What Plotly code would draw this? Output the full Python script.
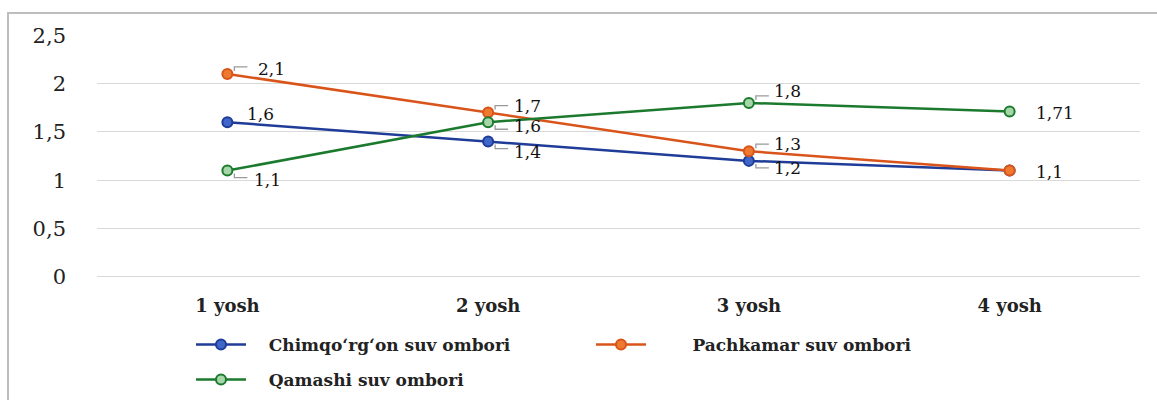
import plotly.graph_objects as go

# ---- data ----
categories = ["1 yosh", "2 yosh", "3 yosh", "4 yosh"]
series_names = ["Chimqo‘rg‘on suv ombori", "Pachkamar suv ombori", "Qamashi suv ombori"]
chimqorgon = [1.6, 1.4, 1.2, 1.1]
pachkamar = [2.1, 1.7, 1.3, 1.1]
qamashi = [1.1, 1.6, 1.8, 1.71]
y_ticks = [0, 0.5, 1, 1.5, 2, 2.5]

# ---- styles ----
W, H = 1157, 400
ML, MR, MT, MB = 97, 17, 35, 123
PW, PH = W - ML - MR, H - MT - MB
FONT = "DejaVu Serif"
NB = "\u00a0"

styles = [
    dict(line="#1F3C98", fill="#3F66C8", legend="legend", lx=191, ly=345, pad=3),
    dict(line="#D9541A", fill="#EE7A30", legend="legend2", lx=591, ly=345, pad=7),
    dict(line="#1B7A2E", fill="#A5D6A7", legend="legend3", lx=191, ly=380, pad=3),
]
# label offsets (dx, dy in px, screen coords) per series per category; None = no label
label_off = [
    [(33, -8), (39, 10), (39, 7), None],
    [(44, -5), (39, -7), (39, -7), (40, 1)],
    [(40, 9), (39, 4), (39, -12), (45, 1)],
]
# leader line presence / direction (-1 up, +1 down, 0 none)
leader = [
    [0, 1, 1, 0],
    [-1, -1, -1, 0],
    [1, 1, -1, 0],
]

values = [chimqorgon, pachkamar, qamashi]

fig = go.Figure()
for i, (name, vals, st) in enumerate(zip(series_names, values, styles)):
    fig.add_trace(go.Scatter(
        x=categories, y=vals, name=NB * st["pad"] + name, mode="lines+markers",
        line=dict(color=st["line"], width=2.5),
        marker=dict(symbol="circle", size=10, color=st["fill"],
                    line=dict(color=st["line"], width=2)),
        legend=st["legend"],
    ))

annotations = []
shapes = []
for i, vals in enumerate(values):
    for j, v in enumerate(vals):
        off = label_off[i][j]
        if off is None:
            continue
        txt = f"{v:g}".replace(".", ",")
        annotations.append(dict(
            x=categories[j], y=v, xref="x", yref="y", text=txt, showarrow=False,
            xshift=off[0], yshift=-off[1], xanchor="center", yanchor="middle",
            font=dict(family=FONT, size=17, color="#111111"),
        ))
        d = leader[i][j]
        if d != 0:
            s = -d
            shapes.append(dict(
                type="path", xref="x", yref="y",
                xsizemode="pixel", ysizemode="pixel",
                xanchor=categories[j], yanchor=v,
                path=f"M 7,{s*3} L 7,{s*7} L 20,{s*7}",
                line=dict(color="#9a9a9a", width=1.3),
            ))

# outer border of the chart frame
shapes.append(dict(
    type="rect", xref="paper", yref="paper",
    x0=(8 - ML) / PW, x1=(1170 - ML) / PW,
    y0=(MT + PH - 420) / PH, y1=(MT + PH - 13) / PH,
    line=dict(color="#bdbdbd", width=2), fillcolor="rgba(0,0,0,0)", layer="below",
))

legend_common = dict(
    orientation="h", xanchor="left", yanchor="middle",
    font=dict(family=FONT, size=17, color="#222222", weight="bold"),
    itemwidth=50, bgcolor="rgba(0,0,0,0)", traceorder="normal",
)
layout_legends = {}
for st in styles:
    layout_legends[st["legend"]] = dict(
        legend_common,
        x=(st["lx"] - ML) / PW,
        y=(MT + PH - st["ly"]) / PH,
    )

fig.update_layout(
    width=W, height=H,
    margin=dict(l=ML, r=MR, t=MT, b=MB, pad=0, autoexpand=False),
    paper_bgcolor="white", plot_bgcolor="white",
    separators=", ",
    showlegend=True,
    annotations=annotations,
    shapes=shapes,
    xaxis=dict(
        type="category", range=[-0.5, 3.5], showgrid=False, zeroline=False,
        showline=False, ticks="", ticklabelstandoff=16,
        tickfont=dict(family=FONT, size=18, color="#222222", weight="bold"),
    ),
    yaxis=dict(
        range=[-0.002, 2.503], tickvals=y_ticks, showgrid=True, gridcolor="#d9d9d9",
        gridwidth=1, zeroline=True, zerolinecolor="#d9d9d9", zerolinewidth=1,
        showline=False, ticks="",
        ticklabelstandoff=30,
        tickfont=dict(family=FONT, size=21, color="#222222"),
    ),
    **layout_legends,
)

fig.write_html("out.html")
